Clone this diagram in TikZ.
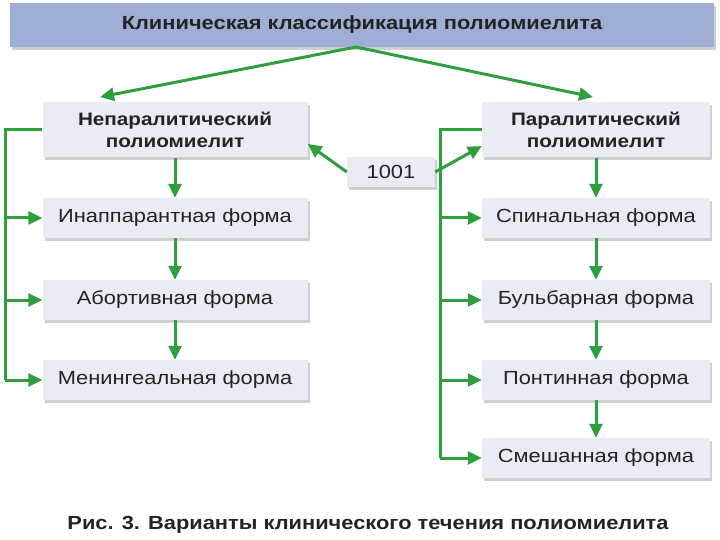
\documentclass[tikz,border=0pt]{standalone}
\usepackage{fontspec}
\setmainfont[FakeStretch=1.15]{Liberation Sans}
\usetikzlibrary{arrows.meta, shadows}
\definecolor{linkgreen}{HTML}{2F9E3C}
\definecolor{boxfill}{HTML}{E9ECF3}
\definecolor{headfill}{HTML}{9EAED4}
\definecolor{boxtext}{HTML}{232323}

\begin{document}
\begin{tikzpicture}[x=1pt, y=-1pt, >={Triangle[length=14pt, width=13pt]},
    card/.style={fill=boxfill, inner sep=0pt, text=boxtext, align=center,
        font=\fontsize{19}{22}\selectfont,
        drop shadow={shadow xshift=2pt, shadow yshift=-3pt, fill=gray!75}},
    leftcard/.style={card, minimum width=265pt, minimum height=40pt},
    rightcard/.style={card, minimum width=228pt, minimum height=40pt},
    link/.style={->, linkgreen, line width=3pt},
    bus/.style={linkgreen, line width=3pt}]
    \useasboundingbox (0,0) rectangle (720,540);

    % title
    \node[fill=headfill, minimum width=704pt, minimum height=44pt, inner sep=0pt,
        text=boxtext, font=\bfseries\fontsize{19}{22}\selectfont,
        drop shadow={shadow xshift=2pt, shadow yshift=-3pt, fill=gray!75}]
        (title) at (362,25) {Клиническая классификация полиомиелита};

    % two groups
    \node[leftcard, minimum height=55pt, font=\bfseries\fontsize{18}{22}\selectfont]
        (nonpar) at (175,130) {Непаралитический\\полиомиелит};
    \node[rightcard, minimum height=55pt, font=\bfseries\fontsize{18}{22}\selectfont]
        (par) at (596,130) {Паралитический\\полиомиелит};
    \node[card, minimum width=88pt, minimum height=30pt] (num) at (391,172) {1001};

    % left column
    \node[leftcard] (inap)  at (175,218) {Инаппарантная форма};
    \node[leftcard] (abort) at (175,300) {Абортивная форма};
    \node[leftcard] (menin) at (175,380) {Менингеальная форма};

    % right column
    \node[rightcard] (spin) at (596,218) {Спинальная форма};
    \node[rightcard] (bulb) at (596,300) {Бульбарная форма};
    \node[rightcard] (pont) at (596,380) {Понтинная форма};
    \node[rightcard] (mix)  at (596,458) {Смешанная форма};

    % caption
    \node[font=\bfseries\fontsize{19}{22}\selectfont, text=boxtext]
        (caption) at (368,525) {Рис. 3. Варианты клинического течения полиомиелита};

    % connectors
    \coordinate (top) at (356,47);
    \draw[link] (top) -- (100,97);
    \draw[link] (top) -- (593,97);

    \draw[link] (num.west) -- (nonpar.-6.5);
    \draw[link] (num.east) -- (par.-172.5);

    \draw[link] (nonpar) -- (inap);
    \draw[link] (inap) -- (abort);
    \draw[link] (abort) -- (menin);
    \draw[link] (par) -- (spin);
    \draw[link] (spin) -- (bulb);
    \draw[link] (bulb) -- (pont);
    \draw[link] (pont) -- (mix);

    \coordinate (lbus) at (5,380);
    \coordinate (rbus) at (440,458);
    \draw[bus] (nonpar.west) -| (lbus);
    \draw[bus] (par.west) -| (rbus);
    \foreach \n in {inap, abort, menin}
        \draw[link] (lbus |- \n.west) -- (\n.west);
    \foreach \n in {spin, bulb, pont, mix}
        \draw[link] (rbus |- \n.west) -- (\n.west);
\end{tikzpicture}
\end{document}
